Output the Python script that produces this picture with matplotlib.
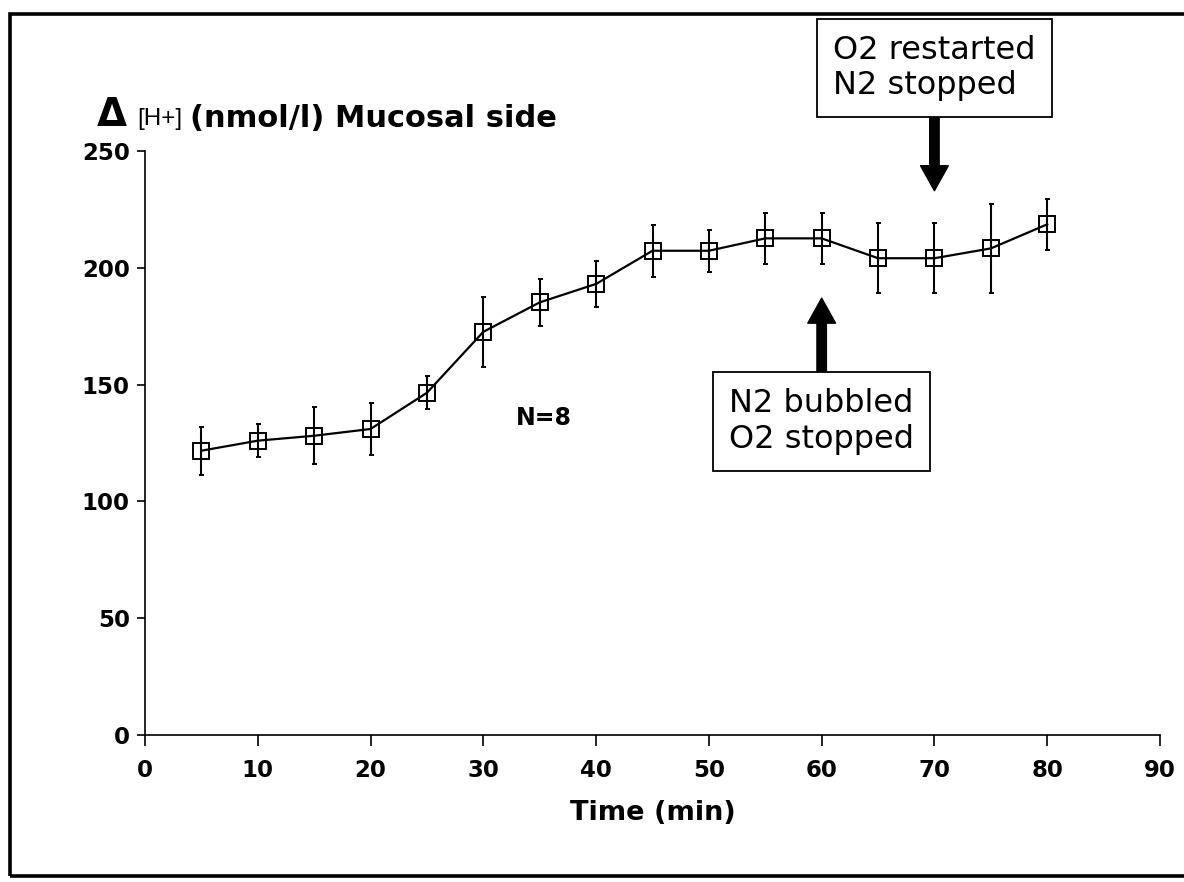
import matplotlib
matplotlib.use("Agg")
import matplotlib.pyplot as plt
from matplotlib.patches import Rectangle

# Hydrogen ion concentration change on the mucosal side over time (mean ± SEM)
time_min = [5, 10, 15, 20, 25, 30, 35, 40, 45, 50, 55, 60, 65, 70, 75, 80]
h_mean = [121.7, 126.0, 128.1, 131.0, 146.5, 172.6, 185.2, 193.1,
          207.3, 207.3, 212.6, 212.6, 204.1, 204.1, 208.3, 218.6]
h_err = [10.2, 7.1, 12.3, 11.1, 7.0, 15.1, 10.1, 10.0,
         11.1, 9.0, 11.0, 10.9, 15.1, 15.0, 19.0, 11.0]

x_ticks = [0, 10, 20, 30, 40, 50, 60, 70, 80, 90]
y_ticks = [0, 50, 100, 150, 200, 250]

# Gas switching events
n2_on_time, n2_on_level = 60, 187
o2_on_time, o2_on_level = 70, 233

W, H = 1184, 882
fig = plt.figure(figsize=(W / 100, H / 100), dpi=100)
fig.patch.set_facecolor("white")

# Outer frame around the figure
fig.patches.append(Rectangle((10 / W, 1 - 876 / H), 1.2, (876 - 14) / H,
                             transform=fig.transFigure, fill=False,
                             lw=2.6, ec="black", zorder=0))

ax = fig.add_axes([145 / W, 1 - 735 / H, (1160 - 145) / W, (735 - 151) / H])

ax.errorbar(time_min, h_mean, yerr=h_err, color="black", lw=1.6,
            marker="s", ms=12, mfc="none", mec="black", mew=1.4,
            elinewidth=1.5, capsize=1.8, capthick=1.5, clip_on=False, zorder=3)

ax.set_xlim(0, 90)
ax.set_ylim(0, 250)
ax.set_xticks(x_ticks)
ax.set_yticks(y_ticks)
for s in ("top", "right"):
    ax.spines[s].set_visible(False)
for s in ("left", "bottom"):
    ax.spines[s].set_linewidth(1.2)

tick_font = dict(family="DejaVu Sans", weight="bold", size=16.5)
ax.set_xticklabels([str(v) for v in x_ticks], **tick_font)
ax.set_yticklabels([str(v) for v in y_ticks], **tick_font)
ax.tick_params(axis="x", direction="out", length=8, width=1.2, pad=9)
ax.tick_params(axis="y", direction="out", length=6, width=1.2, pad=5)

ax.set_xlabel("Time (min)", family="DejaVu Sans", weight="bold",
              size=19.5, labelpad=13)

# Y-axis caption written above the axis
fig.text(97 / W, 1 - 126 / H, "Δ", family="DejaVu Sans", weight="bold",
         size=28, ha="left", va="baseline")
fig.text(137 / W, 1 - 125 / H, "[H+]", family="Liberation Sans",
         weight="normal", size=17.5, ha="left", va="baseline")
fig.text(190 / W, 1 - 127 / H, "(nmol/l) Mucosal side", family="DejaVu Sans",
         weight="bold", size=22, ha="left", va="baseline")

ax.text(35.4, 135.7, "N=8", family="DejaVu Sans", weight="bold", size=17,
        ha="center", va="center")

box_style = dict(boxstyle="square,pad=0.5", fc="white", ec="black", lw=1.3)
note_font = dict(family="DejaVu Sans", size=23, linespacing=1.2,
                 ha="center", va="center", multialignment="left")
ax.text(o2_on_time, 285.5, "O2 restarted\nN2 stopped", bbox=box_style,
        clip_on=False, **note_font)
ax.text(n2_on_time, 134.2, "N2 bubbled\nO2 stopped", bbox=box_style,
        clip_on=False, **note_font)

arrow_props = dict(arrowstyle="simple,tail_width=0.34,head_width=1.0,head_length=0.9",
                   mutation_scale=20, fc="black", ec="black", shrinkA=0, shrinkB=0)
ax.annotate("", xy=(o2_on_time, o2_on_level), xytext=(o2_on_time, 264),
            arrowprops=arrow_props, annotation_clip=False)
ax.annotate("", xy=(n2_on_time, n2_on_level), xytext=(n2_on_time, 155.8),
            arrowprops=arrow_props, annotation_clip=False)

fig.savefig("out.png", dpi=100)
